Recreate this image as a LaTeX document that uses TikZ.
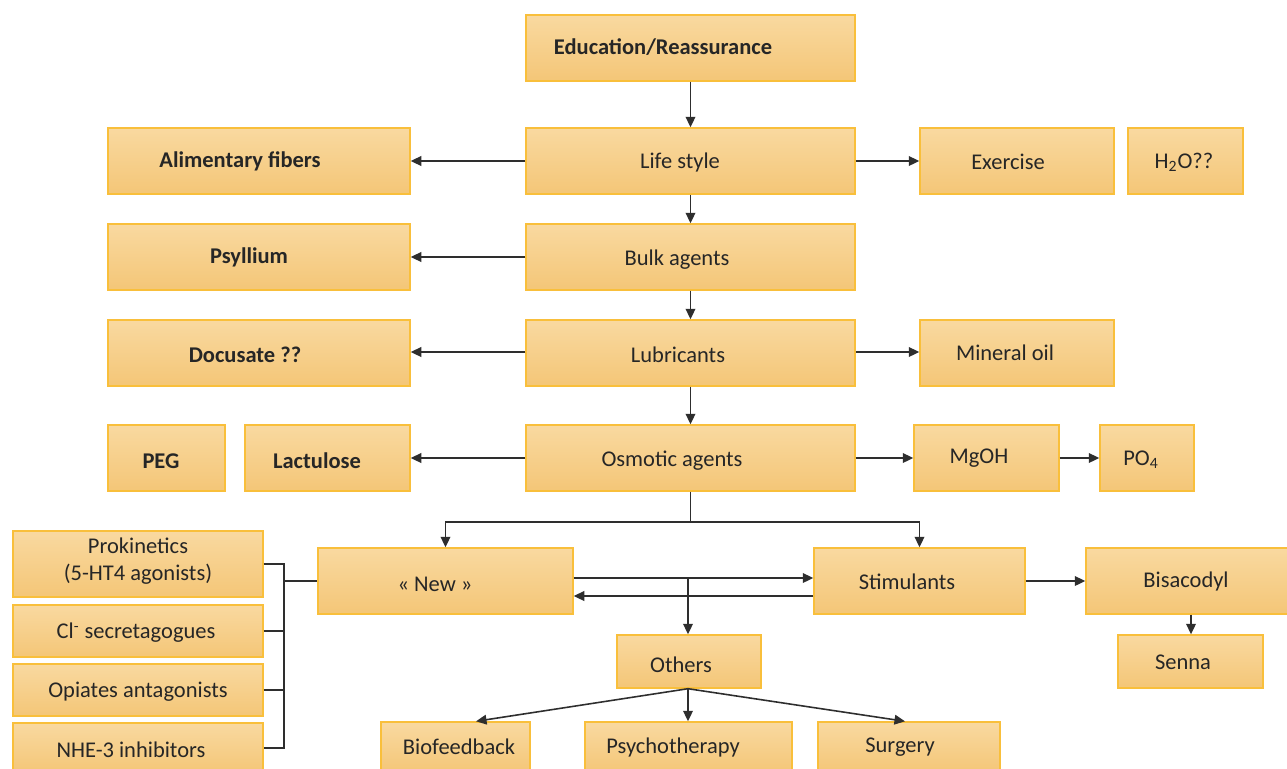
\documentclass[tikz,border=0pt]{standalone}
\usepackage{fontspec}
\setmainfont{Carlito}
\usetikzlibrary{arrows.meta,fit}
\definecolor{boxtop}{HTML}{F9D9A0}
\definecolor{boxbot}{HTML}{F4C677}
\definecolor{boxline}{HTML}{F9BF3B}
\definecolor{ink}{HTML}{262626}
\definecolor{wirec}{HTML}{2E2E2E}
\tikzset{
  box/.style={rectangle, draw=boxline, line width=0.8pt, top color=boxtop, bottom color=boxbot, inner sep=0pt},
  txt/.style={text=ink, font=\fontsize{12.8}{15.5}\selectfont, inner sep=0pt, align=center},
  btxt/.style={txt, font=\fontsize{12.8}{15.5}\selectfont\bfseries},
  wire/.style={draw=wirec, line width=0.9pt},
  arr/.style={wire, -{Triangle[length=6pt,width=5.5pt]}},
}
% box: name, left, top, right, bottom, text x, text y, text style, text
\newcommand{\bx}[9]{%
  \node[box, fit={(#2,#3) (#4,#5)}] (#1) {};
  \node[#8] (#1-t) at (#6,#7) {#9};}
\begin{document}
\begin{tikzpicture}[x=0.02cm, y=-0.02cm]
\useasboundingbox (0,0) rectangle (1287,768);
% central column
\bx{edu}{526}{15}{855}{81}{663}{47}{btxt}{Education/Reassurance}
\bx{life}{526}{128}{855}{194}{680}{162}{txt}{Life style}
\bx{bulk}{526}{224}{855}{290}{677}{260}{txt}{Bulk agents}
\bx{lub}{526}{320}{855}{386}{678}{355}{txt}{Lubricants}
\bx{osm}{526}{425}{855}{491}{672}{461}{txt}{Osmotic agents}
% left column
\bx{alim}{108}{128}{410}{194}{240}{161}{btxt}{Alimentary fibers}
\bx{psy}{108}{224}{410}{290}{249}{257}{btxt}{Psyllium}
\bx{docu}{108}{320}{410}{386}{245}{355}{btxt}{Docusate ??}
\bx{peg}{108}{425}{225}{491}{161}{461}{btxt}{PEG}
\bx{lact}{245}{425}{410}{491}{317}{461}{btxt}{Lactulose}
% right column
\bx{exer}{920}{128}{1114}{194}{1008}{162}{txt}{Exercise}
\bx{water}{1128}{128}{1243}{194}{1184}{162}{txt}{H\textsubscript{2}O??}
\bx{oil}{920}{320}{1114}{386}{1005}{353}{txt}{Mineral oil}
\bx{mgoh}{914}{425}{1059}{491}{979}{458}{txt}{MgOH}
\bx{po}{1100}{425}{1194}{491}{1141}{460}{txt}{PO\textsubscript{4}}
% lower part
\bx{prok}{13}{531}{263}{597}{138}{561}{txt}{Prokinetics\\(5-HT4 agonists)}
\bx{cl}{13}{605}{263}{657}{136}{633}{txt}{Cl\textsuperscript{-} secretagogues}
\bx{opi}{13}{664}{263}{716}{138}{692}{txt}{Opiates antagonists}
\bx{nhe}{13}{723}{263}{773}{131}{750}{txt}{NHE-3 inhibitors}
\bx{new}{318}{548}{573}{614}{435}{584}{txt}{«~New~»}
\bx{stim}{814}{548}{1025}{614}{907}{582}{txt}{Stimulants}
\bx{bis}{1086}{548}{1292}{614}{1186}{581}{txt}{Bisacodyl}
\bx{senna}{1118}{635}{1263}{688}{1183}{662}{txt}{Senna}
\bx{oth}{617}{635}{761}{688}{681}{665}{txt}{Others}
\bx{bio}{381}{722}{530}{773}{459}{747}{txt}{Biofeedback}
\bx{psych}{585}{722}{792}{773}{673}{747}{txt}{Psychotherapy}
\bx{surg}{818}{722}{1000}{773}{900}{747}{txt}{Surgery}
% vertical chain
\draw[arr] (edu.south) -- (life.north);
\draw[arr] (life.south) -- (bulk.north);
\draw[arr] (bulk.south) -- (lub.north);
\draw[arr] (lub.south) -- (osm.north);
% side branches
\draw[arr] (life.west) -- (alim.east);
\draw[arr] (life.east) -- (exer.west);
\draw[arr] (bulk.west |- 0,257) -- (psy.east |- 0,257);
\draw[arr] (lub.west |- 0,352) -- (docu.east |- 0,352);
\draw[arr] (lub.east |- 0,352) -- (oil.west |- 0,352);
\draw[arr] (osm.west) -- (lact.east);
\draw[arr] (osm.east) -- (mgoh.west);
\draw[arr] (mgoh.east) -- (po.west);
% fork below the osmotic agents
\coordinate (fork) at (osm.south |- 0,522);
\draw[wire] (osm.south) -- (fork);
\draw[arr] (fork) -| (new.north);
\draw[arr] (fork) -| (stim.north);
% new <-> stimulants
\draw[arr] (new.east |- 0,578) -- (stim.west |- 0,578);
\draw[arr] (stim.west |- 0,596) -- (new.east |- 0,596);
\coordinate (split) at (688,578);
\draw[arr] (split) -- (oth.north -| split);
\draw[arr] (stim.east) -- (bis.west);
\draw[arr] (bis.south -| 1191,0) -- (senna.north -| 1191,0);
% others
\draw[arr] (oth.south -| split) -- (bio.north -| 476,0);
\draw[arr] (oth.south -| split) -- (psych.north -| split);
\draw[arr] (oth.south -| split) -- (surg.north -| 905,0);
% bracket of the new agents
\coordinate (bk) at (284,581);
\draw[wire] (prok.east) -| (bk |- nhe.east) -- (nhe.east);
\draw[wire] (cl.east) -- (cl.east -| bk);
\draw[wire] (opi.east) -- (opi.east -| bk);
\draw[wire] (bk) -- (new.west);
\end{tikzpicture}
\end{document}
